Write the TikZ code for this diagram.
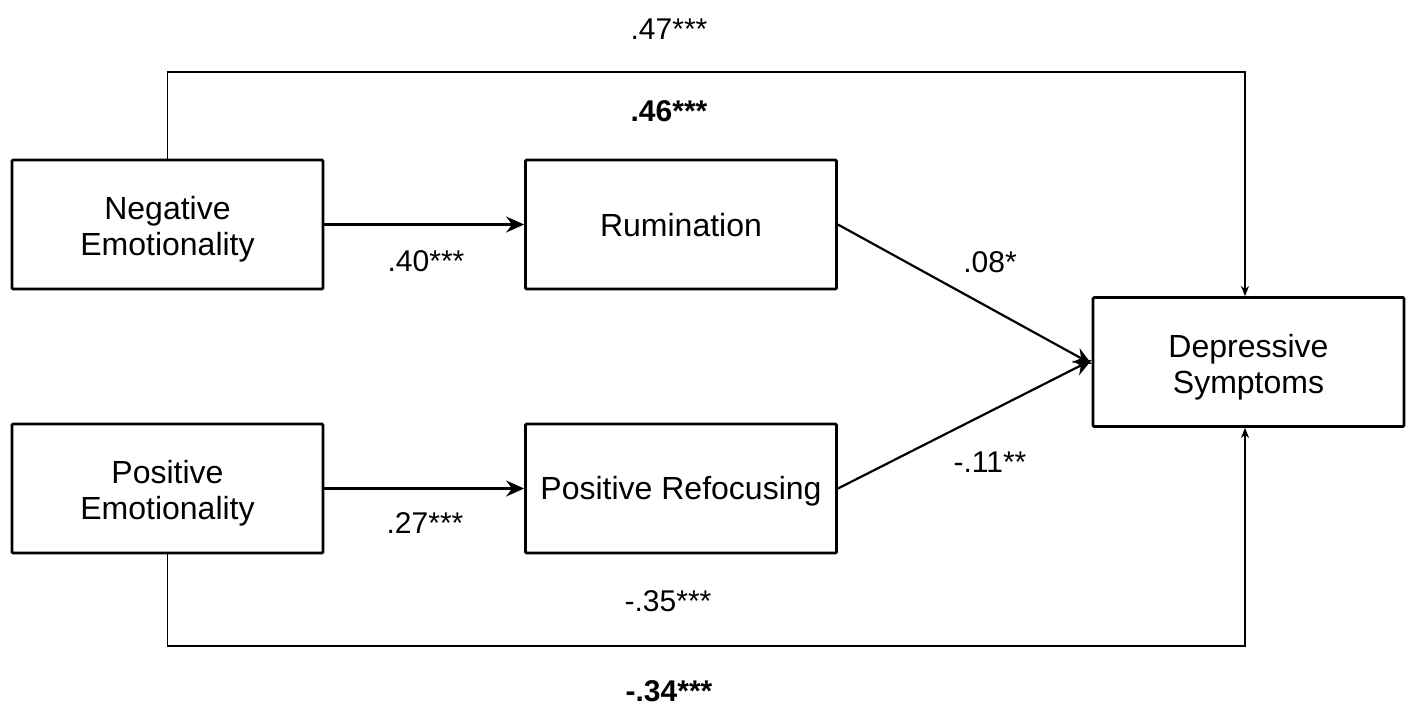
\documentclass[tikz,border=0pt]{standalone}
\usepackage{fontspec}
\setmainfont{Liberation Sans}
\usetikzlibrary{arrows.meta}
\begin{document}
\begin{tikzpicture}[x=0.5pt,y=-0.5pt,
  box/.style={draw,line width=1.4pt,rounded corners=0.6pt,minimum width=155.5pt,minimum height=64.5pt,
    align=center,font=\fontsize{16pt}{18pt}\selectfont,inner sep=0pt},
  lowtext/.style={yshift=-2.5pt},
  coef/.style={font=\fontsize{15pt}{17pt}\selectfont,inner sep=1pt},
  bcoef/.style={coef,font=\fontsize{15pt}{17pt}\selectfont\bfseries},
  path/.style={line width=1.1pt,-{Stealth[length=9pt,width=8pt,inset=3pt]}},
  dpath/.style={line width=0.7pt,-{Stealth[length=5pt,width=4pt,inset=1.5pt]}}]
\useasboundingbox (0,0) rectangle (1417,709);
% variables (boxes drawn as plain rectangles, labels placed separately)
\node[box] (ne) at (167.5,224.5) {};
\node[box] (ru) at (681,224.5) {};
\node[box] (pe) at (167.5,488.5) {};
\node[box] (pr) at (681,488.5) {};
\node[box] (ds) at (1248.5,362) {};
\node[box,draw=none,lowtext] (nel) at (ne) {Negative\\Emotionality};
\node[box,draw=none,yshift=-0.5pt] (rul) at (ru) {Rumination};
\node[box,draw=none,lowtext] (pel) at (pe) {Positive\\Emotionality};
\node[box,draw=none,yshift=-1.5pt] (prl) at (pr) {Positive Refocusing};
\node[box,draw=none,lowtext] (dsl) at (ds) {Depressive\\Symptoms};
% indirect paths
\draw[path] (ne.east) -- (ru.west);
\draw[path] (pe.east) -- (pr.west);
\draw[path] (ru.east) -- ([yshift=-1pt]ds.west);
\draw[path] (pr.east) -- ([yshift=1pt]ds.west);
% direct paths
\coordinate (t1) at (167.5,72);
\coordinate (t2) at (1245,72);
\coordinate (b1) at (167.5,646);
\coordinate (b2) at (1245,646);
\draw[dpath] (ne.north) -- (t1) -- (t2) -- (t2 |- ds.north);
\draw[dpath] (pe.south) -- (b1) -- (b2) -- (b2 |- ds.south);
% coefficients
\node[coef] (c1) at (669,29) {.47***};
\node[bcoef] (c2) at (669,111) {.46***};
\node[coef] (c3) at (426,261) {.40***};
\node[coef] (c4) at (990,262) {.08*};
\node[coef] (c5) at (990,462) {-.11**};
\node[coef] (c6) at (425,523) {.27***};
\node[coef] (c7) at (668,601) {-.35***};
\node[bcoef] (c8) at (669,691) {-.34***};
\end{tikzpicture}
\end{document}
